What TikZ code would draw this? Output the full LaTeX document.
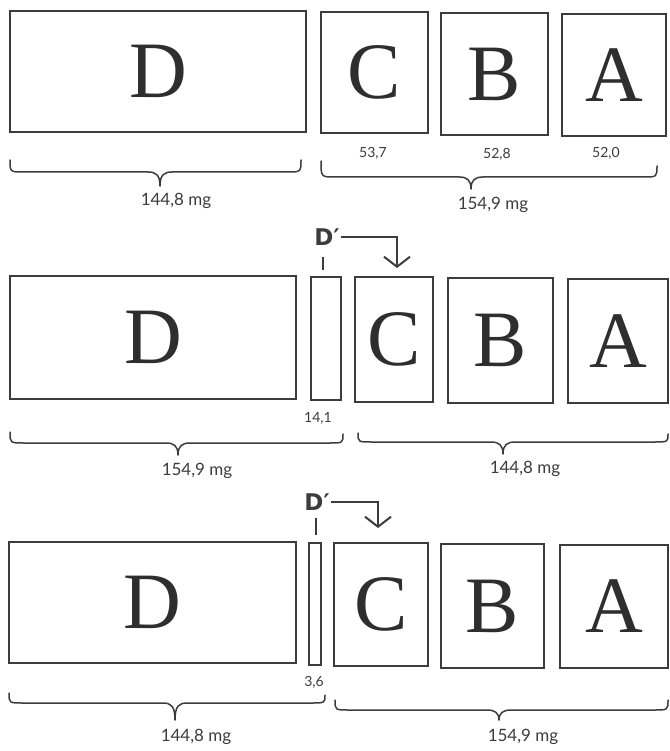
\documentclass[tikz,border=0pt]{standalone}
\usepackage{fontspec}
\setmainfont{Liberation Serif}
\newfontfamily\handfont{Lato}
\newfontfamily\labfont{DejaVu Sans}
\usetikzlibrary{arrows.meta}
\definecolor{ink}{HTML}{3C3C3C}
\definecolor{letter}{HTML}{2E2E2E}
\newcommand\mybox[6]{%
  \pgfmathsetmacro\bw{#4-#2}\pgfmathsetmacro\bh{#5-#3}%
  \node[box, minimum width=\bw pt, minimum height=\bh pt] (#1) at ({(#2+#4)/2},{(#3+#5)/2}) {#6};}
% brace: x1 y1 x2 y2 yline xtip ytip
\newcommand\mybrace[7]{%
  \draw[bracestyle] (#1,#2) .. controls (#1,#5) and (#1,#5) .. ({#1+14},#5)
    -- ({#6-12},#5) .. controls ({#6-4},#5) and (#6,{#5+3}) .. (#6,#7)
    .. controls (#6,{#5+3}) and ({#6+4},#5) .. ({#6+12},#5)
    -- ({#3-14},#5) .. controls (#3,#5) and (#3,#5) .. (#3,#4);}
\begin{document}
\begin{tikzpicture}[x=1pt,y=-1pt,
  box/.style={draw=ink, line width=1.4pt, inner sep=0pt, text=letter,
    font=\fontsize{80}{80}\selectfont},
  bracestyle/.style={draw=ink, line width=1.5pt, line join=round, line cap=round},
  mass/.style={font=\handfont\fontsize{17}{17}\selectfont, text=ink, inner sep=1pt},
  small/.style={font=\handfont\fontsize{14}{14}\selectfont, text=ink, inner sep=1pt},
  dlab/.style={font=\labfont\bfseries\fontsize{23}{23}\selectfont, text=ink, inner sep=1pt},
  tick/.style={draw=ink, line width=1.8pt},
  arr/.style={draw=ink, line width=2pt, -{Straight Barb[length=10pt,width=26pt,line width=2pt]}}
]
\useasboundingbox (0,0) rectangle (669,751);

% ---------- Row 1 ----------
\mybox{D1}{10}{11}{306}{132}{D}
\mybox{C1}{321}{12}{428}{133}{C}
\mybox{B1}{441}{13}{548}{135}{B}
\mybox{A1}{562}{14}{666}{136}{A}
\node[small] (n1) at (373,153) {53,7};
\node[small] (n2) at (497,154) {52,8};
\node[small] (n3) at (606,153) {52,0};
\mybrace{10}{160}{301}{160}{172}{160}{186}
\mybrace{321}{161}{657}{166}{177}{471}{189}
\node[mass] (m1) at (176,201) {144,8 mg};
\node[mass] (m2) at (493,205) {154,9 mg};

% ---------- Row 2 ----------
\node[dlab] (dp2) at (327,237) {D′};
\coordinate (t2a) at (323,257);
\coordinate (t2b) at (323,270);
\draw[tick] (t2a) -- (t2b);
\coordinate (ar2) at (397,268);
\draw[arr] (dp2.east) -| (ar2);
\mybox{D2}{10}{276}{296}{399}{D}
\mybox{P2}{311}{277}{341}{400}{}
\mybox{C2}{355}{277}{433}{402}{C}
\mybox{B2}{448}{278}{553}{403}{B}
\mybox{A2}{568}{279}{668}{403}{A}
\node[small] (n4) at (318,418) {14,1};
\mybrace{10}{432}{343}{434}{443}{178}{455}
\mybrace{358}{433}{668}{434}{442}{503}{454}
\node[mass] (m3) at (197,471) {154,9 mg};
\node[mass] (m4) at (525,469) {144,8 mg};

% ---------- Row 3 ----------
\node[dlab] (dp3) at (317,502) {D′};
\coordinate (t3a) at (316,518);
\coordinate (t3b) at (316,535);
\draw[tick] (t3a) -- (t3b);
\coordinate (ar3) at (378,528);
\draw[arr] (dp3.east) -| (ar3);
\mybox{D3}{9}{542}{296}{663}{D}
\mybox{P3}{309}{543}{321}{665}{}
\mybox{C3}{334}{543}{428}{666}{C}
\mybox{B3}{441}{544}{544}{668}{B}
\mybox{A3}{560}{545}{668}{668}{A}
\node[small] (n5) at (314,682) {3,6};
\mybrace{9}{693}{325}{695}{703}{175}{720}
\mybrace{335}{700}{668}{700}{710}{499}{720}
\node[mass] (m5) at (196,737) {144,8 mg};
\node[mass] (m6) at (523,737) {154,9 mg};
\end{tikzpicture}
\end{document}
